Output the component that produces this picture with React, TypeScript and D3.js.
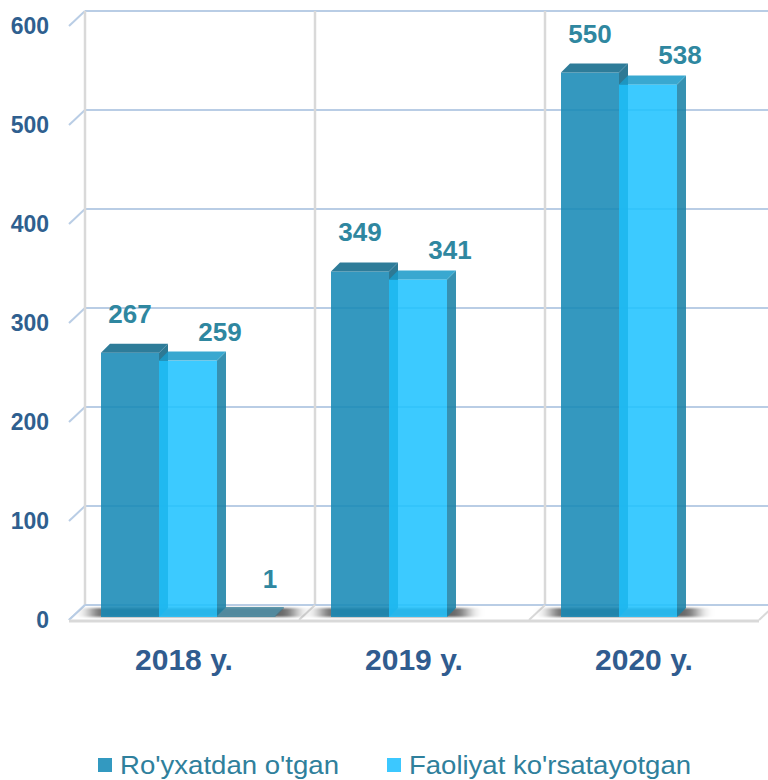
import React from 'react';
import * as d3 from 'd3';

const categories = ['2018 y.', '2019 y.', '2020 y.'];
const seriesNames = ["Ro'yxatdan o'tgan", "Faoliyat ko'rsatayotgan", 'Boshqa'];
const registered = [267, 349, 550];
const active = [259, 341, 538];
const other = [1, 0, 0];
const yTicks = [0, 100, 200, 300, 400, 500, 600];

const seriesValues = [registered, active, other];
const seriesStyle = [
  { front: '#1689B6', top: '#0F688A', side: '#0F6584', legend: '#3399C0', labelDx: 0, labelDy: -30, inLegend: true },
  { front: '#1FC3FF', top: '#1B9BC9', side: '#1981A6', legend: '#3CC8FF', labelDx: 32, labelDy: -20, inLegend: true },
  { front: '#45889F', top: '#4F8FA6', side: '#3A7A90', legend: '#45889F', labelDx: 24, labelDy: -28, inLegend: false },
];

const W = 768;
const H = 780;
const FONT = "'Liberation Sans', Arial, Helvetica, sans-serif";

export default function App() {
  const wallLeft = 85;
  const wallRight = 775;
  const x = d3.scaleBand<string>().domain(categories).range([wallLeft, wallRight]).paddingInner(0).paddingOuter(0);
  const y = d3.scaleLinear().domain([0, 600]).range([605, 11]);
  const xs = d3.scaleBand<string>().domain(['0', '1', '2']).range([0, 174]);
  const bw = xs.bandwidth();

  const dX = -16;
  const dY = 15;
  const barOffX = 16;
  const barOffY = 12;
  const bdx = 9;
  const bdy = -9;
  const alpha = 0.865;

  const floorBack = y(0);
  const floorFront = floorBack + dY;
  const gridColor = '#B9CDE5';
  const wallLine = '#D9D9D9';

  const floorPts = [
    [wallLeft, floorBack],
    [wallRight, floorBack],
    [wallRight + dX, floorFront],
    [wallLeft + dX, floorFront],
  ];

  const barBase = y(0) + barOffY;

  const bars: any[] = [];
  const labels: any[] = [];
  const shadows: any[] = [];
  categories.forEach((c, ci) => {
    const gx = (x(c) as number) + barOffX;
    let lastRight = gx;
    seriesValues.forEach((vals, si) => {
      const v = vals[ci];
      if (!v) return;
      const st = seriesStyle[si];
      const x0 = gx + (xs(String(si)) as number);
      const x1 = x0 + bw;
      const yt = y(v) + barOffY;
      const yb = barBase;
      lastRight = Math.max(lastRight, x1);
      bars.push(
        <g key={`b${ci}-${si}`} opacity={alpha}>
          <rect x={x0} y={yt} width={bw} height={Math.max(0, yb - yt)} fill={st.front} />
          <polygon points={`${x1},${yt} ${x1 + bdx},${yt + bdy} ${x1 + bdx},${yb + bdy} ${x1},${yb}`} fill={st.side} />
          <polygon points={`${x0},${yt} ${x1},${yt} ${x1 + bdx},${yt + bdy} ${x0 + bdx},${yt + bdy}`} fill={st.top} />
        </g>
      );
      labels.push(
        <text
          key={`l${ci}-${si}`}
          x={x0 + bw / 2 + st.labelDx}
          y={yt + st.labelDy}
          textAnchor="middle"
          fontFamily={FONT}
          fontWeight="bold"
          fontSize={26}
          fill="#2F87A0"
        >
          {v}
        </text>
      );
    });
    shadows.push(
      <rect key={`s${ci}`} x={gx - 10} y={barBase - 9} width={lastRight - gx + 30} height={9} fill="#000" />
    );
  });

  return (
    <svg width={W} height={H} style={{ position: 'absolute', left: 0, top: 0, background: '#fff' }}>
      <defs>
        <filter id="shadowBlur" x="-20%" y="-100%" width="140%" height="300%">
          <feGaussianBlur stdDeviation="8 1.2" />
        </filter>
        <clipPath id="floorClip">
          <polygon points={floorPts.map((p) => p.join(',')).join(' ')} />
        </clipPath>
      </defs>

      {yTicks.map((t) => (
        <g key={`g${t}`}>
          <line x1={wallLeft} x2={wallRight} y1={y(t)} y2={y(t)} stroke={gridColor} strokeWidth={2} />
          <line x1={wallLeft} y1={y(t)} x2={wallLeft + dX} y2={y(t) + dY} stroke={gridColor} strokeWidth={2} />
        </g>
      ))}
      {[...categories.map((c) => x(c) as number), wallRight].map((vx, i) => (
        <line key={`v${i}`} x1={vx} x2={vx} y1={y(600)} y2={y(0)} stroke={wallLine} strokeWidth={2.5} />
      ))}

      <polygon points={floorPts.map((p) => p.join(',')).join(' ')} fill="#fff" />
      <line x1={wallLeft} x2={wallRight} y1={floorBack} y2={floorBack} stroke={gridColor} strokeWidth={2} />
      <line x1={wallLeft} y1={floorBack} x2={wallLeft + dX} y2={floorFront} stroke={gridColor} strokeWidth={2} />
      {[...categories.slice(1).map((c) => x(c) as number), wallRight].map((vx, i) => (
        <line key={`fd${i}`} x1={vx} y1={floorBack} x2={vx + dX} y2={floorFront} stroke={wallLine} strokeWidth={2} />
      ))}
      <line x1={wallLeft + dX} x2={wallRight + dX} y1={floorFront + 1} y2={floorFront + 1} stroke={wallLine} strokeWidth={3} />

      <g clipPath="url(#floorClip)">
        <g filter="url(#shadowBlur)" opacity={0.6}>
          {shadows}
        </g>
      </g>

      {bars}
      {labels}

      {yTicks.map((t) => (
        <text
          key={`yt${t}`}
          x={49}
          y={y(t) + dY}
          dy="0.36em"
          textAnchor="end"
          fontFamily={FONT}
          fontWeight="bold"
          fontSize={23}
          fill="#2F5F8F"
        >
          {t}
        </text>
      ))}

      {categories.map((c) => (
        <text
          key={`c${c}`}
          x={(x(c) as number) + x.bandwidth() / 2 + dX}
          y={670}
          textAnchor="middle"
          fontFamily={FONT}
          fontWeight="bold"
          fontSize={30}
          fill="#305C8F"
        >
          {c}
        </text>
      ))}

      {seriesStyle.map((st, i) => {
        if (!st.inLegend) return null;
        const lx = [98, 387][i];
        const tl = [219, 282][i];
        return (
          <g key={`lg${i}`}>
            <rect x={lx} y={758} width={14} height={14} fill={st.legend} />
            <text
              x={lx + 22}
              y={774}
              fontFamily={FONT}
              fontSize={25}
              fill="#2F809C"
              textLength={tl}
              lengthAdjust="spacingAndGlyphs"
            >
              {seriesNames[i]}
            </text>
          </g>
        );
      })}
    </svg>
  );
}
